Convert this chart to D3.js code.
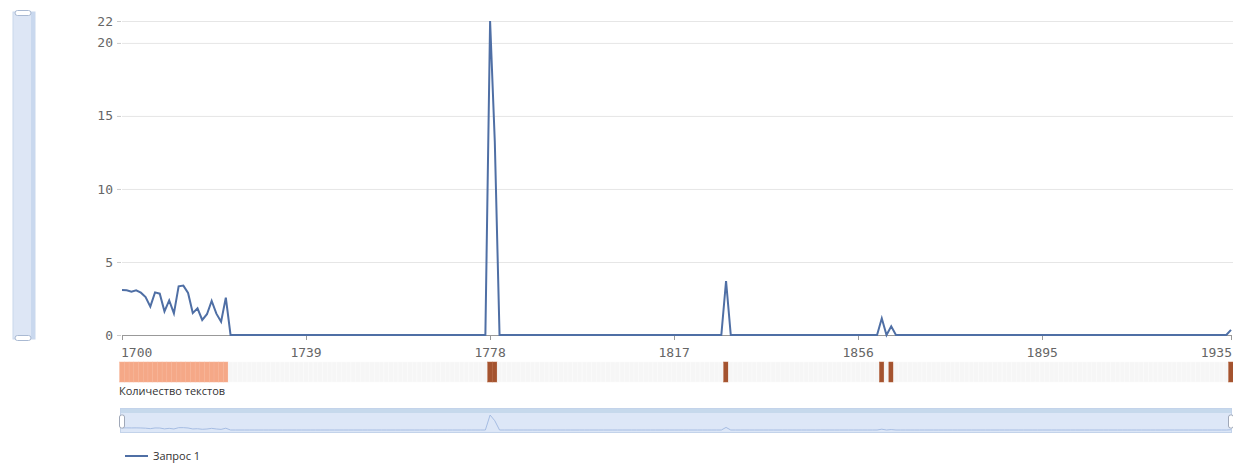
<!DOCTYPE html>
<html><head><meta charset="utf-8">
<script src="https://cdn.jsdelivr.net/npm/d3@7"></script>
<style>
html,body{margin:0;padding:0;background:#fff;}
svg{display:block;}
</style></head>
<body>
<svg id="c" width="1233" height="463"></svg>
<script>
// ---- data ----
const yearStart = 1700, yearEnd = 1935;
// years with non-zero value (all other years are 0)
const valueYears = [1700,1701,1702,1703,1704,1705,1706,1707,1708,1709,1710,1711,1712,1713,1714,1715,1716,1717,1718,1719,1720,1721,1722,1778,1779,1828,1861,1863,1935];
const values     = [3.08,3.06,2.97,3.06,2.9,2.6,1.94,2.92,2.83,1.62,2.37,1.48,3.33,3.38,2.88,1.5,1.83,1.03,1.42,2.33,1.46,0.91,2.56,21.5,13.2,3.7,1.14,0.6,0.35];
// number of texts per year (heat strip)
const textYears  = [1700,1701,1702,1703,1704,1705,1706,1707,1708,1709,1710,1711,1712,1713,1714,1715,1716,1717,1718,1719,1720,1721,1722,1778,1779,1828,1861,1863,1935];
const textCounts = [12,12,12,12,12,12,12,12,12,12,12,12,12,12,12,12,12,12,12,12,12,12,12,1,1,1,1,1,1];
const xTickLabels = [1700,1739,1778,1817,1856,1895,1935];
const yTickLabels = [0,5,10,15,20];
const yMaxLabel = "22";
const seriesName = "Запрос 1";
const stripLabel = "Количество текстов";

// ---- build tables ----
const allYears = d3.range(yearStart, yearEnd + 1);
const valueMap = new Map(valueYears.map((y,i)=>[y, values[i]]));
const series = allYears.map(y => ({year:y, v: valueMap.has(y) ? valueMap.get(y) : 0}));
const textMap = new Map(textYears.map((y,i)=>[y, textCounts[i]]));

const svg = d3.select("#c");
const x = d3.scaleLinear().domain([yearStart, yearEnd]).range([122, 1231]);
const yMax = d3.max(values);
const y = d3.scaleLinear().domain([0, yMax]).range([335, 21]);
const lineColor = "#4f6fa5";
const mono = "'DejaVu Sans Mono', monospace";
const sans = "'Open Sans', 'Noto Sans', sans-serif";

// left vertical scroller
const sc = svg.append("g");
sc.append("rect").attr("x",13).attr("y",12).attr("width",22).attr("height",327).attr("fill","#dde6f5").attr("stroke","#c9d7ec");
sc.append("rect").attr("x",31).attr("y",12).attr("width",4).attr("height",327).attr("fill","#c9d8ee");
[13, 338].forEach(cy => {
  sc.append("rect").attr("x",15).attr("y",cy-2.5).attr("width",16).attr("height",5).attr("rx",2.5)
    .attr("fill","#fff").attr("stroke","#a9b9d2");
});

// grid + y labels
const yTicks = yTickLabels.map(v => ({v, label: String(v)})).concat([{v: yMax, label: yMaxLabel}]);
svg.append("g").selectAll("line").data(yTicks.filter(t=>t.v>0)).join("line")
  .attr("x1",122).attr("x2",1233).attr("y1",d=>y(d.v)+0.5).attr("y2",d=>y(d.v)+0.5)
  .attr("stroke","#e6e6e6").attr("stroke-width",1);
svg.append("g").selectAll("line").data(yTicks).join("line")
  .attr("x1",117).attr("x2",121).attr("y1",d=>y(d.v)+0.5).attr("y2",d=>y(d.v)+0.5)
  .attr("stroke","#cccccc");
svg.append("g").selectAll("text").data(yTicks).join("text")
  .attr("x",113).attr("y",d=>y(d.v)).attr("dy","0.35em").attr("text-anchor","end")
  .attr("font-family",mono).attr("font-size",13).attr("fill","#666").text(d=>d.label);

// x axis
svg.append("line").attr("x1",122).attr("x2",1231).attr("y1",335.5).attr("y2",335.5).attr("stroke","#999");
svg.append("g").selectAll("line").data(xTickLabels).join("line")
  .attr("x1",d=>Math.round(x(d))+0.5).attr("x2",d=>Math.round(x(d))+0.5).attr("y1",335).attr("y2",340).attr("stroke","#999");
svg.append("g").selectAll("text").data(xTickLabels).join("text")
  .attr("x",(d,i)=> i===0 ? x(d)-1 : (i===xTickLabels.length-1 ? x(d)+1 : x(d)))
  .attr("y",357)
  .attr("text-anchor",(d,i)=> i===0 ? "start" : (i===xTickLabels.length-1 ? "end" : "middle"))
  .attr("font-family",mono).attr("font-size",13).attr("fill","#666").text(d=>d);

// line
svg.append("path").datum(series)
  .attr("d", d3.line().x(d=>x(d.year)).y(d=>y(d.v)))
  .attr("fill","none").attr("stroke",lineColor).attr("stroke-width",2).attr("stroke-linejoin","miter");

// heat strip
const step = x(yearStart+1) - x(yearStart);
const strip = svg.append("g");
strip.append("rect").attr("x",x(yearStart)-step/2).attr("y",362).attr("width",x(yearEnd)-x(yearStart)+step).attr("height",20).attr("fill","#f6f6f6");
const color = d3.scaleThreshold().domain([5]).range(["#a4532f","#f5a887"]);
strip.selectAll("rect.cell").data(allYears).join("rect").attr("class","cell")
  .attr("x",d=>x(d)-step/2).attr("y",362).attr("width",step).attr("height",20)
  .attr("fill",d=> textMap.has(d) ? color(textMap.get(d)) : "#f6f6f6")
  .attr("stroke",d=> textMap.has(d) ? (textMap.get(d) >= 5 ? "#f7b396" : "#b2603a") : "#fbfbfb")
  .attr("stroke-width",0.5);
svg.append("text").attr("x",119).attr("y",395).attr("font-family",sans).attr("font-size",11)
  .attr("fill","#333").text(stripLabel);

// navigator
const nav = svg.append("g");
nav.append("rect").attr("x",120.5).attr("y",408.5).attr("width",1111).attr("height",24).attr("fill","#dde7f7").attr("stroke","#c3d3ea");
nav.append("rect").attr("x",121).attr("y",409).attr("width",1110).attr("height",4).attr("fill","#c6d9ec");
const ny = d3.scaleLinear().domain([0, yMax]).range([430, 415]);
nav.append("path").datum(series)
  .attr("d", d3.line().x(d=>x(d.year)).y(d=>ny(d.v)))
  .attr("fill","none").attr("stroke","#a6bde3").attr("stroke-width",1);
[x(yearStart), x(yearEnd)].forEach(hx => {
  nav.append("rect").attr("x",hx-2.5).attr("y",415).attr("width",5).attr("height",13).attr("rx",2)
    .attr("fill","#fff").attr("stroke","#a0a8b8");
});

// legend
svg.append("line").attr("x1",125).attr("x2",148).attr("y1",456).attr("y2",456).attr("stroke",lineColor).attr("stroke-width",2);
svg.append("text").attr("x",153).attr("y",460).attr("font-family",sans).attr("font-size",11).attr("fill","#333").text(seriesName);
</script>
</body></html>
